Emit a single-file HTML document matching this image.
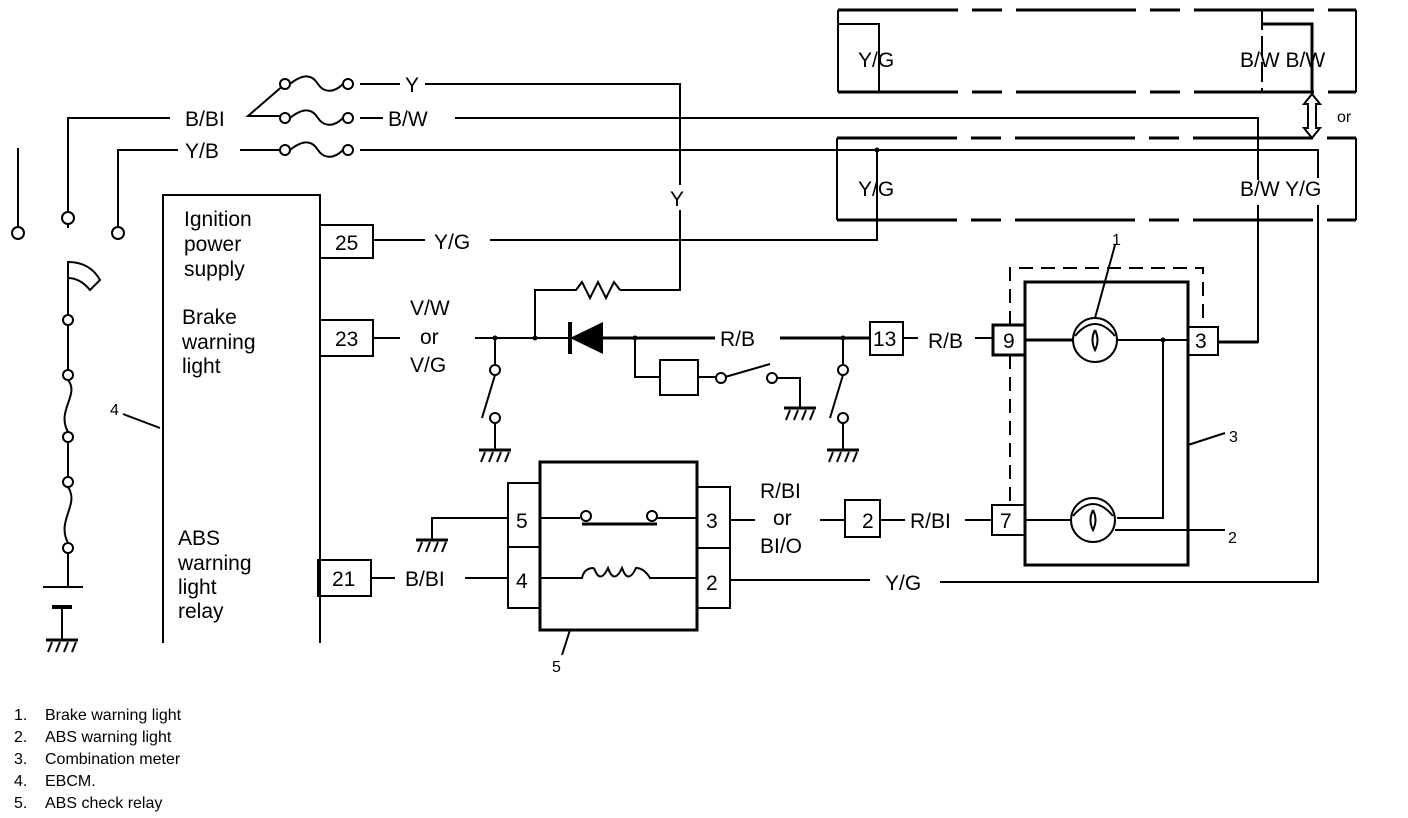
<!DOCTYPE html>
<html><head><meta charset="utf-8"><style>
html,body{margin:0;padding:0;background:#fff;}
svg{display:block;}
text{font-family:"Liberation Sans",sans-serif;fill:#000;}
.l{font-size:21px;}
.s{font-size:16px;}
</style></head><body>
<svg width="1408" height="818" viewBox="0 0 1408 818" xmlns="http://www.w3.org/2000/svg">
<defs>
<g id="gnd"><line x1="-16" y1="0" x2="16" y2="0" stroke="#000" stroke-width="3"/><path d="M-10 2 L-14 12 M-2 2 L-6 12 M6 2 L2 12 M14 2 L10 12" stroke="#000" stroke-width="2"/></g>
<g id="fuse"><circle cx="0" cy="0" r="5" fill="#fff" stroke="#000" stroke-width="2"/><path d="M5 0 C20 -12 28 -8 33 0 S48 10 58 0" fill="none" stroke="#000" stroke-width="2"/><circle cx="63" cy="0" r="5" fill="#fff" stroke="#000" stroke-width="2"/></g>
</defs>
<g stroke="#000" stroke-width="2" fill="none">
<!-- top box -->
<path d="M838 10 H1356 M838 92 H1356" stroke-dasharray="120 14 30 14" stroke-width="3"/>
<path d="M838 10 V92 M1356 10 V92"/>
<path d="M838 24 H879 V92"/>
<path d="M1262 10 V92" stroke-dasharray="20 6"/>
<path d="M1262 24 H1312 V92" stroke-width="3"/>
<path d="M1312 94 L1304 104 H1308 V128 H1304 L1312 138 L1320 128 H1316 V104 H1320 Z" stroke-width="2"/>
<!-- bottom box -->
<path d="M837 138 H1356 M837 220 H1356" stroke-dasharray="120 14 30 14" stroke-width="3"/>
<path d="M837 138 V220 M1356 138 V220"/>
<!-- wires -->
<path d="M360 84 H400 M425 84 H680 V185 M680 210 V290 H620"/>
<path d="M620 290 L614 282 L606 298 L598 282 L590 298 L582 282 L576 290 H535 V338"/>
<path d="M360 118 H383 M455 118 H1258 V180 M1258 205 V342 H1218"/>
<path d="M240 150 H283 M360 150 H1318 V178 M1318 205 V582 H940"/>
<path d="M870 580 H730"/>
<path d="M68 228 V118 H170"/>
<path d="M118 228 V150 H178"/>
<path d="M18 148 V226"/>
<path d="M285 84 L248 116 H285"/>
<!-- EBCM -->
<path d="M163 643 V195 H320 V643"/>
<path d="M123 414 L160 428"/>
<rect x="320" y="225" width="53" height="33"/>
<rect x="320" y="320" width="53" height="36"/>
<rect x="318" y="560" width="53" height="36"/>
<path d="M373 240 H425 M490 240 H877 V150"/>
<path d="M373 338 H400 M475 338 H568"/>
<path d="M371 578 H395 M465 578 H508"/>
<!-- switches -->
<path d="M495 338 V365 M495 375 L482 418 M495 423 V450"/>
<circle cx="495" cy="370" r="5" fill="#fff"/><circle cx="495" cy="418" r="5" fill="#fff"/>
<path d="M843 338 V365 M843 375 L830 418 M843 423 V450"/>
<circle cx="843" cy="370" r="5" fill="#fff"/><circle cx="843" cy="418" r="5" fill="#fff"/>
<!-- diode line -->
<path d="M603 338 H715 M780 338 H870" stroke-width="3"/>
<path d="M635 338 V377 H660"/>
<rect x="660" y="360" width="38" height="35"/>
<path d="M698 377 H716 M725 377 L770 364 M776 378 H800 V408"/>
<circle cx="721" cy="378" r="5" fill="#fff"/><circle cx="772" cy="378" r="5" fill="#fff"/>
<rect x="870" y="322" width="33" height="33"/>
<path d="M903 338 H918 M975 338 H993" stroke-width="2"/>
<!-- meter -->
<rect x="993" y="325" width="32" height="30" stroke-width="3"/>
<rect x="1025" y="282" width="163" height="283" stroke-width="3"/>
<path d="M1010 325 V268 H1203 V327 M1010 355 V505" stroke-dasharray="14 8"/>
<path d="M1025 340 H1073" stroke-width="3"/>
<circle cx="1095" cy="340" r="22"/>
<path d="M1075 336 Q1095 312 1115 336 M1095 330 Q1090 340 1095 350 Q1100 340 1095 330"/>
<path d="M1117 340 H1188 M1163 340 V518 H1117"/>
<rect x="1188" y="327" width="30" height="28" stroke-width="2"/>
<path d="M1218 342 H1258" stroke-width="3"/>
<rect x="992" y="505" width="33" height="30" stroke-width="2"/>
<path d="M1025 520 H1071"/>
<circle cx="1093" cy="520" r="22"/>
<path d="M1073 516 Q1093 492 1113 516 M1093 510 Q1088 520 1093 530 Q1098 520 1093 510"/>
<path d="M1115 530 H1225 M1188 445 L1225 433 M1095 318 L1115 245"/>
<rect x="845" y="500" width="35" height="37"/>
<path d="M730 520 H755 M820 520 H845 M880 520 H905 M965 520 H992"/>
<!-- relay -->
<rect x="540" y="462" width="157" height="168" stroke-width="3"/>
<rect x="508" y="483" width="32" height="64"/><rect x="508" y="547" width="32" height="61"/>
<rect x="697" y="487" width="33" height="61"/><rect x="697" y="548" width="33" height="60"/>
<path d="M540 518 H580 M657 518 H697" />
<circle cx="586" cy="516" r="5" fill="#fff"/><circle cx="652" cy="516" r="5" fill="#fff"/>
<path d="M582 524 H657" stroke-width="3"/>
<path d="M540 578 H582 Q584 568 594 568 M594 568 Q600 585 608 568 Q614 585 622 568 Q628 585 636 568 Q644 568 650 578 H697"/>
<path d="M508 518 H432 V540"/>
<path d="M570 630 L562 655"/>
<!-- battery chain -->
<path d="M68 300 V262 Q90 262 100 280 L90 290 Q80 278 68 278"/>
<path d="M68 300 V315 M68 325 V370 M68 380 C80 395 56 410 68 432 M68 442 V477 M68 487 C80 505 56 520 68 543 M68 553 V587 M43 587 H83 M62 607 V640"/>
<circle cx="68" cy="320" r="5" fill="#fff"/><circle cx="68" cy="375" r="5" fill="#fff"/>
<circle cx="68" cy="437" r="5" fill="#fff"/><circle cx="68" cy="482" r="5" fill="#fff"/>
<circle cx="68" cy="548" r="5" fill="#fff"/>
<path d="M52 607 H72" stroke-width="4"/>
<circle cx="18" cy="233" r="6" fill="#fff"/><circle cx="68" cy="218" r="6" fill="#fff"/><circle cx="118" cy="233" r="6" fill="#fff"/>
</g>
<!-- diode -->
<polygon points="570,338 603,322 603,354" fill="#000"/>
<rect x="568" y="322" width="4" height="32" fill="#000"/>
<g fill="#000"><circle cx="495" cy="338" r="2.5"/><circle cx="535" cy="338" r="2.5"/><circle cx="635" cy="338" r="2.5"/><circle cx="843" cy="338" r="2.5"/><circle cx="1163" cy="340" r="2.5"/><circle cx="877" cy="150" r="2.5"/></g>
<use href="#fuse" x="285" y="84"/><use href="#fuse" x="285" y="118"/><use href="#fuse" x="285" y="150"/>
<use href="#gnd" x="495" y="450"/><use href="#gnd" x="843" y="450"/><use href="#gnd" x="800" y="408"/><use href="#gnd" x="432" y="540"/><use href="#gnd" x="62" y="640"/>
<!-- text -->
<g class="l">
<text x="858" y="67">Y/G</text><text x="1240" y="67">B/W B/W</text>
<text x="858" y="196">Y/G</text><text x="1240" y="196">B/W Y/G</text>
<text x="1337" y="122" class="s">or</text>
<text x="405" y="92">Y</text><text x="388" y="126">B/W</text>
<text x="185" y="126">B/BI</text><text x="185" y="158">Y/B</text>
<text x="670" y="206">Y</text>
<text x="184" y="226">Ignition</text><text x="184" y="251">power</text><text x="184" y="276">supply</text>
<text x="182" y="324">Brake</text><text x="182" y="349">warning</text><text x="182" y="373">light</text>
<text x="178" y="545">ABS</text><text x="178" y="570">warning</text><text x="178" y="594">light</text><text x="178" y="618">relay</text>
<text x="335" y="250">25</text><text x="335" y="346">23</text><text x="332" y="586">21</text>
<text x="434" y="249">Y/G</text>
<text x="410" y="315">V/W</text><text x="420" y="344">or</text><text x="410" y="372">V/G</text>
<text x="720" y="346">R/B</text>
<text x="873" y="346">13</text><text x="928" y="348">R/B</text>
<text x="1003" y="348">9</text><text x="1195" y="348">3</text><text x="1000" y="528">7</text>
<text x="862" y="528">2</text><text x="910" y="528">R/BI</text>
<text x="760" y="498">R/BI</text><text x="773" y="525">or</text><text x="760" y="553">BI/O</text>
<text x="516" y="528">5</text><text x="516" y="588">4</text><text x="706" y="528">3</text><text x="706" y="590">2</text>
<text x="405" y="586">B/BI</text>
<text x="885" y="590">Y/G</text>
</g>
<g class="s">
<text x="110" y="415">4</text><text x="552" y="672">5</text>
<text x="1229" y="442">3</text><text x="1228" y="543">2</text><text x="1112" y="245">1</text>
<text x="14" y="720">1.</text><text x="45" y="720">Brake warning light</text>
<text x="14" y="742">2.</text><text x="45" y="742">ABS warning light</text>
<text x="14" y="764">3.</text><text x="45" y="764">Combination meter</text>
<text x="14" y="786">4.</text><text x="45" y="786">EBCM.</text>
<text x="14" y="808">5.</text><text x="45" y="808">ABS check relay</text>
</g>
</svg>
</body></html>
